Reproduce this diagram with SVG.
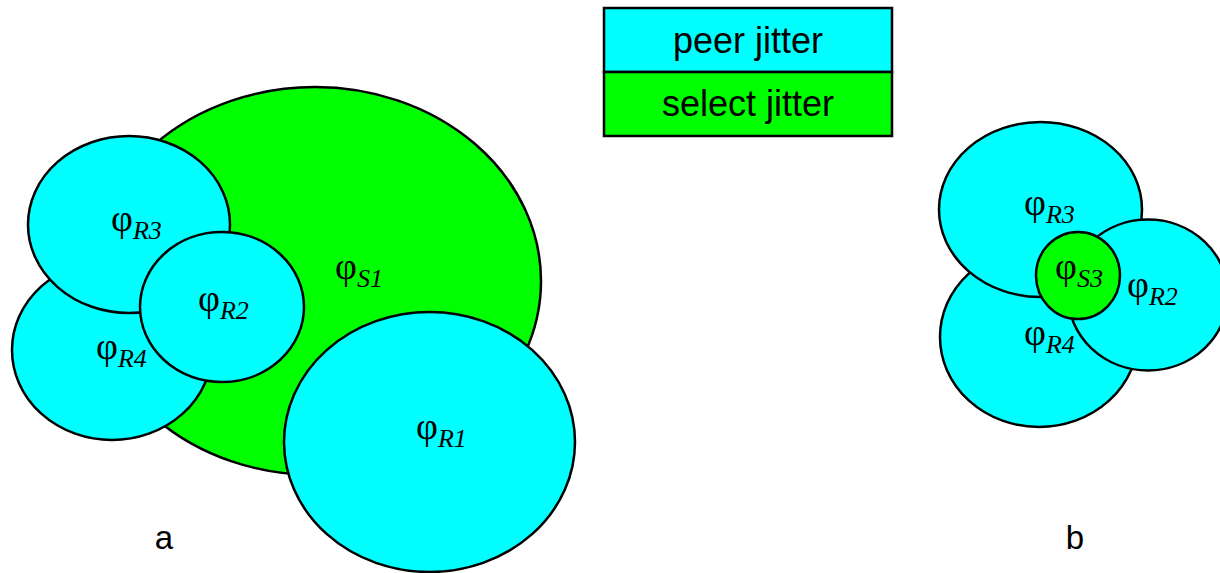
<svg xmlns="http://www.w3.org/2000/svg" width="1220" height="573" viewBox="0 0 1220 573">
  <style>
    .peer { fill: #00ffff; stroke: #000; stroke-width: 2.5; }
    .sel { fill: #00ff00; stroke: #000; stroke-width: 2.5; }
    .phi { font-family: "Liberation Serif", "Times New Roman", serif; font-size: 38px; fill: #000; }
    .sub { font-style: italic; font-size: 26px; }
    .sans { font-family: "Liberation Sans", Arial, sans-serif; fill: #000; }
    .legend { font-size: 36px; text-anchor: middle; }
    .tag { font-size: 33px; text-anchor: middle; }
  </style>

  <!-- Legend -->
  <g id="legend">
    <rect class="peer" x="604" y="8" width="288" height="64"/>
    <rect class="sel" x="604" y="72" width="288" height="64"/>
    <text class="sans legend" x="748" y="53">peer jitter</text>
    <text class="sans legend" x="748" y="116">select jitter</text>
  </g>

  <!-- Panel a -->
  <g id="a-S1">
    <ellipse class="sel" cx="315" cy="281" rx="226" ry="194"/>
    <text class="phi" x="335" y="279">φ<tspan class="sub" dy="8">S1</tspan></text>
  </g>
  <g id="a-R4">
    <ellipse class="peer" cx="112" cy="350" rx="100" ry="90"/>
    <text class="phi" x="96" y="359">φ<tspan class="sub" dy="8">R4</tspan></text>
  </g>
  <g id="a-R3">
    <ellipse class="peer" cx="129" cy="224.5" rx="101" ry="88.5"/>
    <text class="phi" x="111" y="231">φ<tspan class="sub" dy="8">R3</tspan></text>
  </g>
  <g id="a-R2">
    <ellipse class="peer" cx="222" cy="307" rx="82" ry="75"/>
    <text class="phi" x="198" y="311">φ<tspan class="sub" dy="8">R2</tspan></text>
  </g>
  <g id="a-R1">
    <ellipse class="peer" cx="429.5" cy="442" rx="145.5" ry="130"/>
    <text class="phi" x="416" y="439">φ<tspan class="sub" dy="8">R1</tspan></text>
  </g>
  <text id="label-a" class="sans tag" x="164" y="549">a</text>

  <!-- Panel b -->
  <g id="b-R4">
    <ellipse class="peer" cx="1039" cy="337" rx="99" ry="90"/>
    <text class="phi" x="1024" y="345">φ<tspan class="sub" dy="8">R4</tspan></text>
  </g>
  <g id="b-R3">
    <ellipse class="peer" cx="1040.5" cy="209.5" rx="101.5" ry="87.5"/>
    <text class="phi" x="1024" y="215">φ<tspan class="sub" dy="8">R3</tspan></text>
  </g>
  <g id="b-R2">
    <ellipse class="peer" cx="1148" cy="295" rx="80" ry="75.5"/>
    <text class="phi" x="1127" y="297">φ<tspan class="sub" dy="8">R2</tspan></text>
  </g>
  <g id="b-S3">
    <ellipse class="sel" cx="1078" cy="275.5" rx="42" ry="43.5"/>
    <text class="phi" x="1055" y="279">φ<tspan class="sub" dy="8">S3</tspan></text>
  </g>
  <text id="label-b" class="sans tag" x="1075" y="549">b</text>
</svg>
